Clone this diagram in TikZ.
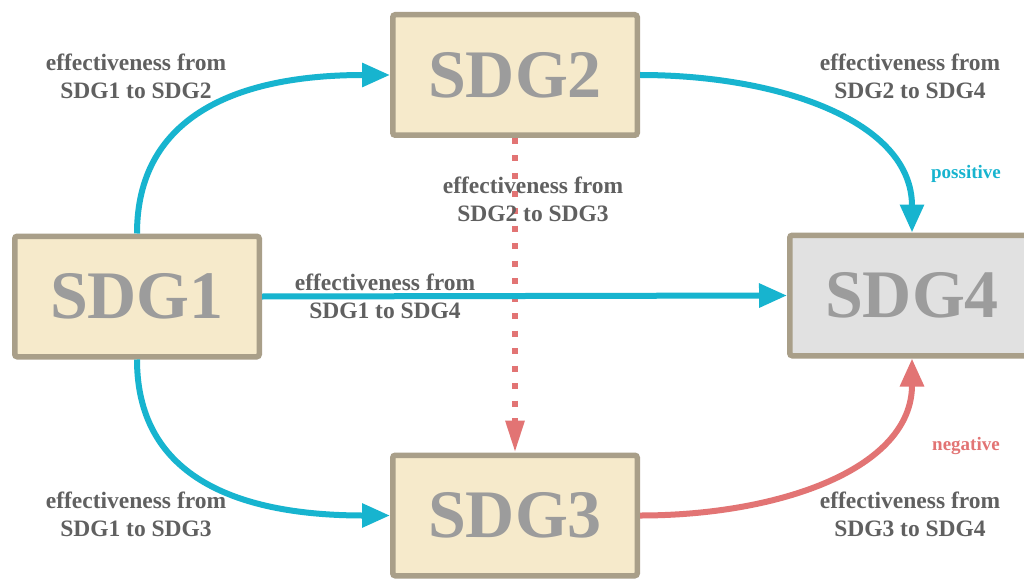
\documentclass[tikz,border=0pt]{standalone}
\usepackage{fontspec}
\setmainfont{Liberation Serif}
\usetikzlibrary{arrows.meta}
\definecolor{boxfill}{HTML}{F6EACB}
\definecolor{boxline}{HTML}{A99F89}
\definecolor{greyfill}{HTML}{E1E1E1}
\definecolor{bigtext}{HTML}{9C9C9C}
\definecolor{labeltext}{HTML}{606060}
\definecolor{posline}{HTML}{17B4CF}
\definecolor{negline}{HTML}{E27474}
\tikzset{
  sdgbox/.style={draw=boxline, line width=5.5pt, fill=boxfill, rounded corners=2.5pt,
    minimum width=244.5pt, minimum height=120.5pt, inner sep=0pt,
    text=bigtext, font=\fontsize{68}{68}\selectfont\bfseries},
  outbox/.style={sdgbox, fill=greyfill},
  edgelabel/.style={align=center, text=labeltext, inner sep=0pt,
    font=\fontsize{23.5}{28}\selectfont\bfseries},
  signlabel/.style={inner sep=0pt, font=\fontsize{19}{22}\selectfont\bfseries},
  poslink/.style={draw=posline, line width=6pt, -{Triangle[length=28pt,width=23pt]}},
  neglink/.style={draw=negline, line width=6pt, -{Triangle[length=28pt,width=23pt]}},
  dotlink/.style={draw=negline, line width=6pt, dash pattern=on 6pt off 11.5pt,
    -{Triangle[length=32pt,width=18pt]}}
}
\begin{document}
\begin{tikzpicture}[x=1pt, y=-1pt]
\useasboundingbox (0,0) rectangle (1024,580);
\fill[white] (0,0) rectangle (1024,580);

% boxes
\node[sdgbox] (s1) at (137,296.5) {SDG1};
\node[sdgbox] (s2) at (515,75) {SDG2};
\node[sdgbox] (s3) at (515,515.5) {SDG3};
\node[outbox] (s4) at (912,295.5) {SDG4};

% links
\draw[dotlink] (s2.south) -- (s3.north);
\draw[poslink] (s1.north) .. controls +(0,-113) and +(-160,0) .. (s2.west);
\draw[poslink] (s1.south) .. controls +(0,113) and +(-160,0) .. (s3.west);
\draw[poslink] (s1.east) -- (s4.west);
\draw[poslink] (s2.east) .. controls +(140,0) and +(0,-111) .. (s4.north);
\draw[neglink] (s3.east) .. controls +(140,0) and +(0,110) .. (s4.south);

% labels
\node[edgelabel] (l12) at (136,76) {effectiveness from\\SDG1 to SDG2};
\node[edgelabel] (l13) at (136,514) {effectiveness from\\SDG1 to SDG3};
\node[edgelabel] (l14) at (385,296) {effectiveness from\\SDG1 to SDG4};
\node[edgelabel] (l23) at (533,199) {effectiveness from\\SDG2 to SDG3};
\node[edgelabel] (l24) at (910,76) {effectiveness from\\SDG2 to SDG4};
\node[edgelabel] (l34) at (910,514) {effectiveness from\\SDG3 to SDG4};
\node[signlabel, text=posline] (pos) at (966,174) {possitive};
\node[signlabel, text=negline] (neg) at (966,446) {negative};
\end{tikzpicture}
\end{document}
